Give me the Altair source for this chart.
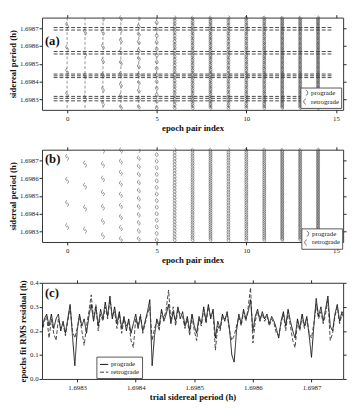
import altair as alt
import pandas as pd
import numpy as np

SERIF = "Liberation Serif"

# ---------------- panels (a) and (b): alias combs per epoch pair ----------------
epoch_pair_index = list(range(15))
comb_lowest_period = [1.69832, 1.69830, 1.69827, 1.69825, 1.698253, 1.69825, 1.69825,
                      1.69825, 1.69825, 1.69825, 1.69825, 1.69825, 1.69825, 1.69825, 1.69825]
comb_spacing = [0.000130, 0.000124, 0.000080, 0.0000625, 0.0000455, 0.000037, 0.000017,
                0.000014, 0.000012, 0.000015, 0.000013, 0.0000115, 0.000009, 0.0000095, 0.0000085]
retro_shift = [0.000014, 0.000014, 0.000012, 0.000010, 0.000007, 0.000002, 0.000003,
               0.000004, 0.000005, 0.000002, 0.000002, 0.000003, 0.000004, 0.000005, 0.000004]

# common-solution lines of panel (a)
common_periods = [1.698704, 1.698690, 1.698569, 1.698555, 1.698442,
                  1.698432, 1.698422, 1.698316, 1.698305, 1.698291]
common_from_index = -0.75
common_to_index = 14.75

# ---------------- panel (c): RMS residual vs trial period ----------------
trial_start = 1.69824
trial_step = 0.000004
prograde_rms = [0.21, 0.25, 0.27, 0.22, 0.27, 0.21, 0.25, 0.27, 0.20, 0.24,
                0.19, 0.25, 0.31, 0.18, 0.055, 0.20, 0.27, 0.22, 0.25, 0.19,
                0.26, 0.31, 0.24, 0.30, 0.22, 0.29, 0.25, 0.32, 0.26, 0.345,
                0.25, 0.30, 0.23, 0.28, 0.21, 0.26, 0.20, 0.25, 0.19, 0.23,
                0.27, 0.21, 0.26, 0.20, 0.24, 0.28, 0.33, 0.055, 0.18, 0.25,
                0.22, 0.29, 0.24, 0.27, 0.31, 0.23, 0.28, 0.24, 0.30, 0.25,
                0.28, 0.22, 0.26, 0.20, 0.27, 0.22, 0.19, 0.26, 0.23, 0.30,
                0.24, 0.31, 0.25, 0.29, 0.17, 0.24, 0.21, 0.27, 0.24, 0.28,
                0.21, 0.10, 0.07, 0.20, 0.27, 0.23, 0.29, 0.25, 0.28, 0.33,
                0.20, 0.26, 0.29, 0.24, 0.28, 0.25, 0.27, 0.23, 0.26, 0.24,
                0.21, 0.17, 0.24, 0.28, 0.22, 0.29, 0.24, 0.20, 0.17, 0.25,
                0.21, 0.27, 0.22, 0.26, 0.18, 0.09, 0.22, 0.335, 0.26, 0.30,
                0.24, 0.29, 0.345, 0.22, 0.20, 0.27, 0.31, 0.24, 0.28, 0.26]
retrograde_rms = [0.19, 0.24, 0.26, 0.17, 0.25, 0.19, 0.16, 0.25, 0.21, 0.23,
                  0.18, 0.24, 0.30, 0.20, 0.17, 0.21, 0.26, 0.20, 0.14, 0.22,
                  0.28, 0.35, 0.25, 0.31, 0.20, 0.27, 0.24, 0.30, 0.25, 0.33,
                  0.26, 0.28, 0.21, 0.27, 0.19, 0.25, 0.22, 0.24, 0.16, 0.13,
                  0.25, 0.22, 0.27, 0.19, 0.23, 0.27, 0.30, 0.16, 0.21, 0.24,
                  0.20, 0.28, 0.25, 0.29, 0.37, 0.24, 0.30, 0.22, 0.29, 0.27,
                  0.26, 0.21, 0.25, 0.18, 0.26, 0.20, 0.16, 0.25, 0.22, 0.29,
                  0.23, 0.30, 0.26, 0.28, 0.12, 0.22, 0.20, 0.26, 0.25, 0.27,
                  0.20, 0.16, 0.18, 0.22, 0.26, 0.22, 0.28, 0.24, 0.30, 0.38,
                  0.15, 0.24, 0.28, 0.25, 0.27, 0.24, 0.26, 0.22, 0.25, 0.23,
                  0.19, 0.18, 0.23, 0.27, 0.20, 0.28, 0.22, 0.16, 0.13, 0.24,
                  0.20, 0.26, 0.21, 0.25, 0.19, 0.17, 0.23, 0.31, 0.25, 0.28,
                  0.23, 0.27, 0.33, 0.16, 0.19, 0.26, 0.30, 0.23, 0.27, 0.25]

directions = ["prograde", "retrograde"]
period_ticks = [1.6983, 1.6984, 1.6985, 1.6986, 1.6987]
index_ticks = [0, 5, 10, 15]
rms_ticks = [0.0, 0.1, 0.2, 0.3, 0.4]

P_MIN, P_MAX = 1.69824, 1.69876

# ---- build tables ----
rows = []
for i, p0, dp, sh in zip(epoch_pair_index, comb_lowest_period, comb_spacing, retro_shift):
    k = 0
    while p0 + k * dp <= P_MAX:
        p = p0 + k * dp
        rows.append({"idx": i, "period": p, "dir": "prograde"})
        if p + sh <= P_MAX:
            rows.append({"idx": i, "period": p + sh, "dir": "retrograde"})
        k += 1
comb_df = pd.DataFrame(rows)
vline_df = pd.DataFrame({"idx": epoch_pair_index})
hline_df = pd.DataFrame({"period": common_periods,
                         "x0": [common_from_index] * len(common_periods),
                         "x1": [common_to_index] * len(common_periods)})
trial = np.round(trial_start + trial_step * np.arange(len(prograde_rms)), 7)
rms_df = pd.concat([
    pd.DataFrame({"trial": trial, "rms": prograde_rms, "series": "prograde"}),
    pd.DataFrame({"trial": trial, "rms": retrograde_rms, "series": "retrograde"}),
])
mirror_ab = pd.DataFrame({"idx": [0], "period": [1.6985]})
mirror_c = pd.DataFrame({"trial": [1.6985], "rms": [0.2]})

PRO = "M 0 -1 C 1 -0.6 1 0.6 0 1"
RETRO = "M 0 -1 C -1 -0.6 -1 0.6 0 1"

W = 310
xs_ab = alt.Scale(domain=[-1.4, 15.4], nice=False, zero=False)
ys_ab = alt.Scale(domain=[P_MIN, P_MAX], nice=False, zero=False)
xs_c = alt.Scale(domain=[1.69824, 1.698754], nice=False, zero=False)
ys_c = alt.Scale(domain=[0, 0.4], nice=False)


def label_layer(txt, y):
    return alt.Chart(pd.DataFrame({"t": [txt]})).mark_text(
        font=SERIF, fontWeight="bold", fontSize=13, align="left", baseline="middle", color="#111"
    ).encode(text="t:N", x=alt.value(3), y=alt.value(y))


def comb_panel(txt, with_lines, lx, ly, label_y, H):
    layers = []
    if with_lines:
        layers.append(alt.Chart(vline_df).mark_rule(strokeDash=[3, 2], color="#666", strokeWidth=0.7)
                      .encode(x=alt.X("idx:Q", scale=xs_ab, axis=None)))
        layers.append(alt.Chart(hline_df).mark_rule(strokeDash=[4, 2], color="#333", strokeWidth=0.9)
                      .encode(y=alt.Y("period:Q", scale=ys_ab, axis=None),
                              x=alt.X("x0:Q", scale=xs_ab, axis=None), x2="x1:Q"))
    pts = alt.Chart(comb_df).mark_point(filled=False, strokeWidth=0.55, color="#444", size=16, opacity=1).encode(
        x=alt.X("idx:Q", scale=xs_ab,
                axis=alt.Axis(orient="bottom", values=index_ticks, title="epoch pair index")),
        y=alt.Y("period:Q", scale=ys_ab,
                axis=alt.Axis(orient="left", values=period_ticks, format=".4f", title="sidereal period (h)")),
        shape=alt.Shape("dir:N", scale=alt.Scale(domain=directions, range=[PRO, RETRO]),
                        legend=alt.Legend(orient="none", legendX=lx, legendY=ly, title=None,
                                          strokeColor="#555", fillColor="white", padding=2,
                                          labelFont=SERIF, labelFontSize=7, symbolSize=30,
                                          symbolStrokeWidth=0.8, rowPadding=0, labelOffset=2)),
    )
    mirror = alt.Chart(mirror_ab).mark_point(opacity=0).encode(
        x=alt.X("idx:Q", scale=xs_ab, axis=alt.Axis(orient="top", labels=False, title=None, values=index_ticks)),
        y=alt.Y("period:Q", scale=ys_ab, axis=alt.Axis(orient="right", labels=False, title=None, values=period_ticks)),
    )
    return alt.layer(*layers, pts, mirror, label_layer(txt, label_y)).properties(width=W, height=H)


panel_a = comb_panel("(a)", True, 266, 72, 24, 95)
panel_b = comb_panel("(b)", False, 267, 81, 10, 95)

leg_c = alt.Legend(orient="none", legendX=56, legendY=76, title=None, strokeColor="#555",
                   fillColor="white", padding=3, labelFont=SERIF, labelFontSize=7,
                   symbolType="stroke", symbolSize=70, symbolStrokeWidth=1, rowPadding=0, labelOffset=2)
lines_c = alt.Chart(rms_df).mark_line(strokeWidth=0.9, clip=True).encode(
    x=alt.X("trial:Q", scale=xs_c,
            axis=alt.Axis(orient="bottom", values=period_ticks, format=".4f", title="trial sidereal period (h)")),
    y=alt.Y("rms:Q", scale=ys_c,
            axis=alt.Axis(orient="left", values=rms_ticks, format=".1f", title="epochs fit RMS residual (h)")),
    color=alt.Color("series:N", scale=alt.Scale(domain=directions, range=["#000000", "#333333"]), legend=leg_c),
    strokeDash=alt.StrokeDash("series:N", scale=alt.Scale(domain=directions, range=[[1, 0], [4, 2]]), legend=leg_c),
)
mirror_c_layer = alt.Chart(mirror_c).mark_point(opacity=0).encode(
    x=alt.X("trial:Q", scale=xs_c, axis=alt.Axis(orient="top", labels=False, title=None, values=period_ticks)),
    y=alt.Y("rms:Q", scale=ys_c, axis=alt.Axis(orient="right", labels=False, title=None, values=rms_ticks)),
)
panel_c = alt.layer(lines_c, mirror_c_layer, label_layer("(c)", 11)).properties(width=W, height=99)

chart = alt.vconcat(panel_a, panel_b, panel_c, spacing=13).resolve_scale(
    shape="independent", color="independent", strokeDash="independent"
).resolve_legend(shape="independent", color="independent", strokeDash="independent").properties(
    padding={"left": 0, "top": 0, "right": 1, "bottom": 0}
).configure_axis(
    labelFont=SERIF, titleFont=SERIF, labelFontSize=7, titleFontSize=9, titleFontWeight="bold",
    tickSize=3, tickColor="#222", domain=False, grid=False, labelColor="#222", titleColor="#111",
).configure_axisX(labelPadding=2, titlePadding=2).configure_axisY(labelPadding=1, titlePadding=2).configure_view(
    stroke="#333", strokeWidth=1
).configure_legend(labelColor="#111")

chart.save("out.html", embed_options={"renderer": "svg", "actions": False})
